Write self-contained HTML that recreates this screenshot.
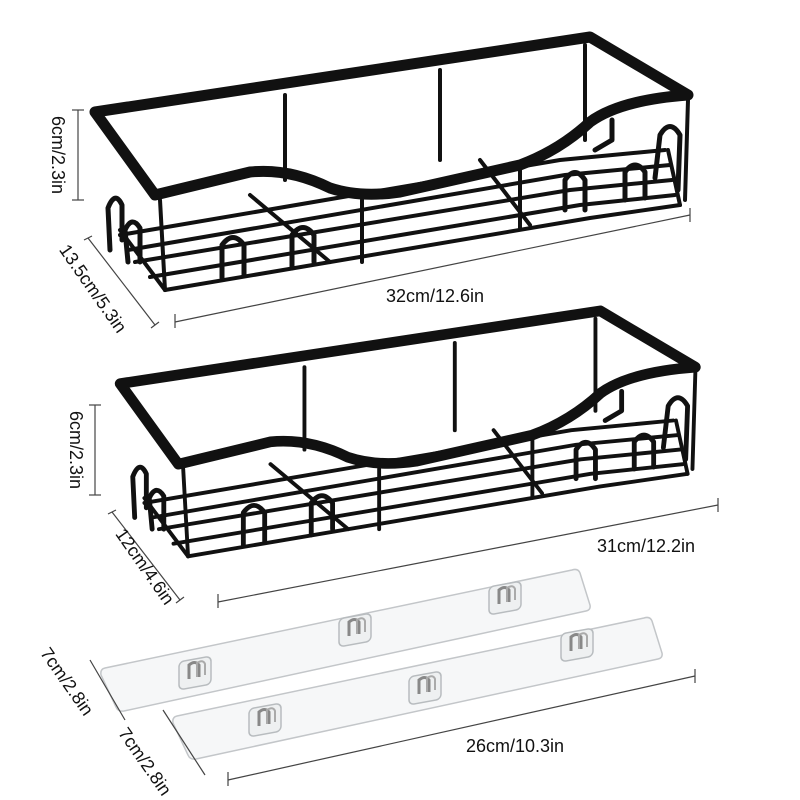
<!DOCTYPE html>
<html><head><meta charset="utf-8"><style>
html,body{margin:0;padding:0;background:#fff}
svg{display:block}
text{font-family:"Liberation Sans",sans-serif;fill:#111;font-size:18px}
</style></head><body>
<svg width="800" height="800" viewBox="0 0 800 800">
<defs>
<g id="basket" fill="none" stroke="#111" stroke-linecap="round" stroke-linejoin="round">
  <g stroke-width="4">
    <line x1="285" y1="95" x2="285" y2="180"/>
    <line x1="440" y1="70" x2="440" y2="160"/>
    <line x1="585" y1="45" x2="585" y2="140"/>
  </g>
  <g stroke-width="4">
    <path d="M120 235 L560 160 L665 150"/>
    <path d="M128 250 L565 175 L670 165"/>
    <path d="M135 262 L570 190 L672 180"/>
    <path d="M150 277 L580 205 L675 195"/>
    <path d="M165 290 L590 218 L680 205"/>
    <path d="M165 290 L120 230"/>
    <path d="M680 205 L668 150"/>
    <line x1="250" y1="195" x2="330" y2="262"/>
    <line x1="480" y1="160" x2="530" y2="225"/>
  </g>
  <g stroke-width="4">
    <line x1="160" y1="200" x2="165" y2="290"/>
    <line x1="362" y1="200" x2="362" y2="262"/>
    <line x1="520" y1="170" x2="520" y2="228"/>
    <line x1="688" y1="100" x2="685" y2="200"/>
  </g>
  <g stroke-width="5">
    <path d="M110 250 L108 208 Q115 190 122 205 L122 240"/>
    <path d="M128 262 L125 230 Q132 215 140 228 L140 262"/>
    <path d="M222 278 L222 245 Q233 230 244 245 L244 275"/>
    <path d="M292 268 L292 235 Q303 220 314 235 L314 262"/>
    <path d="M565 210 L565 180 Q575 165 585 180 L585 210"/>
    <path d="M625 200 L625 172 Q635 158 645 172 L645 198"/>
    <path d="M655 178 L660 135 Q670 118 680 135 L678 190"/>
    <path d="M595 150 L612 140 L612 120"/>
  </g>
  <path d="M95 112 L590 37 L688 95 Q620 100 590 122 Q560 150 520 165 L400 192 Q360 198 330 188 Q290 168 250 172 L155 195 Z" stroke-width="11"/>
</g>
<g id="strip">
  <path d="M5 60 L472 -38 Q478 -40 480 -35 L490 -3 Q491 2 486 3 L24 103 Q18 104 16 99 L1 67 Q0 61 5 60 Z" fill="#f6f7f8" stroke="#c3c6c9" stroke-width="1.5"/>
</g>
<g id="hook" fill="none">
  <rect x="-16" y="-14" width="32" height="28" rx="5" fill="#eef0f1" stroke="#b8bcbf" stroke-width="1.5" transform="skewY(-10)"/>
  <path d="M-6 6 L-6 -8 Q0 -13 4 -8 L4 4" stroke="#888" stroke-width="3"/>
  <path d="M2 4 L2 -10 Q8 -14 10 -9 L10 2" stroke="#aaa" stroke-width="2"/>
</g>
</defs>

<use href="#basket"/>
<use href="#basket" transform="translate(28,275) scale(0.97)"/>

<g transform="translate(100,608)"><use href="#strip"/></g>
<use href="#hook" x="195" y="673"/>
<use href="#hook" x="355" y="630"/>
<use href="#hook" x="505" y="598"/>
<g transform="translate(172,656)"><use href="#strip"/></g>
<use href="#hook" x="265" y="720"/>
<use href="#hook" x="425" y="688"/>
<use href="#hook" x="577" y="645"/>

<g stroke="#444" stroke-width="1.2" fill="none">
  <line x1="78" y1="110" x2="78" y2="200"/><line x1="72" y1="110" x2="84" y2="110"/><line x1="72" y1="200" x2="84" y2="200"/>
  <line x1="88" y1="238" x2="155" y2="325"/><line x1="84" y1="240" x2="92" y2="236"/><line x1="151" y1="328" x2="159" y2="322"/>
  <line x1="175" y1="322" x2="690" y2="215"/><line x1="175" y1="314" x2="175" y2="328"/><line x1="690" y1="208" x2="690" y2="222"/>
  <line x1="95" y1="405" x2="95" y2="495"/><line x1="89" y1="405" x2="101" y2="405"/><line x1="89" y1="495" x2="101" y2="495"/>
  <line x1="112" y1="512" x2="180" y2="600"/><line x1="108" y1="514" x2="116" y2="510"/><line x1="176" y1="603" x2="184" y2="597"/>
  <line x1="218" y1="602" x2="718" y2="505"/><line x1="218" y1="594" x2="218" y2="608"/><line x1="718" y1="498" x2="718" y2="512"/>
  <line x1="90" y1="660" x2="125" y2="720"/>
  <line x1="163" y1="710" x2="205" y2="775"/>
  <line x1="228" y1="780" x2="695" y2="676"/><line x1="228" y1="772" x2="228" y2="786"/><line x1="695" y1="669" x2="695" y2="683"/>
</g>

<text transform="translate(52,155) rotate(90)" text-anchor="middle">6cm/2.3in</text>
<text transform="translate(88,292) rotate(55)" text-anchor="middle">13.5cm/5.3in</text>
<text x="435" y="302" text-anchor="middle">32cm/12.6in</text>
<text transform="translate(70,450) rotate(90)" text-anchor="middle">6cm/2.3in</text>
<text transform="translate(140,570) rotate(55)" text-anchor="middle">12cm/4.6in</text>
<text x="646" y="552" text-anchor="middle">31cm/12.2in</text>
<text transform="translate(62,685) rotate(55)" text-anchor="middle">7cm/2.8in</text>
<text transform="translate(140,765) rotate(55)" text-anchor="middle">7cm/2.8in</text>
<text x="515" y="752" text-anchor="middle">26cm/10.3in</text>
</svg>
</body></html>
